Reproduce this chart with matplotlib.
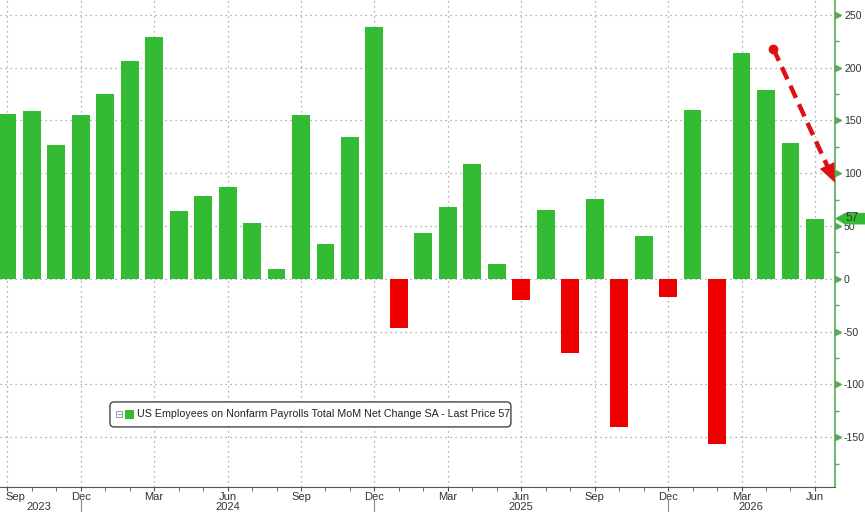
import numpy as np
import matplotlib
matplotlib.use('Agg')
import matplotlib.pyplot as plt
import matplotlib.transforms as mtransforms
from matplotlib.patches import Polygon, FancyBboxPatch, Rectangle

plt.rcParams['font.family'] = ['Liberation Sans', 'DejaVu Sans']
plt.rcParams['axes.unicode_minus'] = False

# donnees (Sep 2023 -> Jun 2026)
months = ['Sep', 'Oct', 'Nov', 'Dec', 'Jan', 'Feb', 'Mar', 'Apr', 'May', 'Jun', 'Jul', 'Aug',
          'Sep', 'Oct', 'Nov', 'Dec', 'Jan', 'Feb', 'Mar', 'Apr', 'May', 'Jun', 'Jul', 'Aug',
          'Sep', 'Oct', 'Nov', 'Dec', 'Jan', 'Feb', 'Mar', 'Apr', 'May', 'Jun']
values = [156, 159, 127, 155, 175, 206, 229, 64, 78, 87, 53, 9,
          155, 33, 134, 238, -47, 43, 68, 109, 14, -20, 65, -70,
          76, -140, 41, -17, 160, -156, 214, 179, 129, 57]
years = ['2023', '2024', '2025', '2026']
year_pos = [1.3, 9.0, 21.0, 30.4]
year_breaks = [3, 15, 27]
last_price = 57
label = 'US Employees on Nonfarm Payrolls Total MoM Net Change SA - Last Price 57'

# fleche de tendance (coordonnees donnees)
arrow_start = (31.3, 218)
arrow_end = (33.82, 91)

green = '#33bb33'
red = '#ee0000'
axis_green = '#55aa55'
txt = '#333333'
arrow_red = '#dd1111'

fig = plt.figure(figsize=(8.65, 5.12), dpi=100)
ax = fig.add_axes([0.0, 0.049, 0.9653, 0.951])

x = np.arange(len(values))
colors = [green if v >= 0 else red for v in values]
ax.bar(x, values, width=0.73, color=colors, zorder=3)

ax.set_xlim(-0.3, 33.82)
ax.set_ylim(-197, 264)

# axes / graduations
ax.yaxis.tick_right()
ax.set_yticks(np.arange(-150, 251, 50))
ax.set_yticks(np.arange(-175, 251, 25), minor=True)
ax.tick_params(axis='y', which='major', length=0, pad=6.5, labelsize=7.6, labelcolor=txt)
ax.tick_params(axis='y', which='minor', length=3, color=axis_green, width=1)
ax.set_xticks(x[::3])
ax.set_xticklabels(months[::3])
ax.set_xticks(x, minor=True)
ax.tick_params(axis='x', which='both', length=3, color='#555555', labelsize=8,
               labelcolor=txt, pad=0.5)
first = ax.get_xticklabels()[0]
first.set_transform(first.get_transform() +
                    mtransforms.ScaledTranslation(6 / 72, 0, fig.dpi_scale_trans))

for s in ['top', 'left']:
    ax.spines[s].set_visible(False)
ax.spines['right'].set_color(axis_green)
ax.spines['right'].set_linewidth(1.2)
ax.spines['bottom'].set_color('#555555')

ax.grid(True, which='major', color='#999999', linestyle=(0, (1, 3)), linewidth=0.9, zorder=0)

# triangles verts sur l'axe de droite
trans = mtransforms.blended_transform_factory(ax.transAxes, ax.transData)
ax.plot([1.004] * 9, np.arange(-150, 251, 50), marker='>', ls='none', ms=4,
        color=axis_green, transform=trans, clip_on=False)

# etiquette du dernier prix
tag = Polygon([(1.0, last_price), (1.012, last_price + 5.5), (1.04, last_price + 5.5),
               (1.04, last_price - 5.5), (1.012, last_price - 5.5)],
              closed=True, fc=green, ec='none', transform=trans, clip_on=False, zorder=5)
ax.add_patch(tag)
ax.text(1.012, last_price + 0.5, str(last_price), transform=trans, fontsize=8.5, color=txt,
        va='center', ha='left', zorder=6, clip_on=False)

# annees sous les mois
xtrans = mtransforms.blended_transform_factory(ax.transData, ax.transAxes)
for yr, p in zip(years, year_pos):
    ax.text(p, -0.042, yr, transform=xtrans, fontsize=8, color=txt, ha='center', va='center')
for b in year_breaks:
    ax.plot([b, b], [-0.024, -0.07], transform=xtrans, color='#888888', lw=0.8, clip_on=False)

# fleche rouge en pointilles : tige en pointilles + pointe pleine (en pixels)
p0 = ax.transData.transform(arrow_start)
p1 = ax.transData.transform(arrow_end)
u = (p1 - p0) / np.hypot(*(p1 - p0))
n = np.array([-u[1], u[0]])
head_len, head_w = 19, 16
base = p1 - u * head_len
head = np.array([p1, base + n * head_w / 2, base - n * head_w / 2])
head_data = ax.transData.inverted().transform(head)
ax.add_patch(Polygon(head_data, closed=True, fc=arrow_red, ec='none', zorder=6,
                     clip_on=False))
shaft_end = ax.transData.inverted().transform(base + u * 2)
ax.plot([arrow_start[0], shaft_end[0]], [arrow_start[1], shaft_end[1]],
        ls=(0, (3, 1.6)), lw=3.2, color=arrow_red, zorder=6, clip_on=False,
        solid_capstyle='butt', dash_capstyle='butt')
ax.plot(*arrow_start, marker='o', ms=6, color=arrow_red, zorder=6)

# legende (boite dessinee a la main)
frame = FancyBboxPatch((0.1317, 0.1232), 0.4802, 0.0513, transform=ax.transAxes,
                       boxstyle='round,pad=0,rounding_size=0.005', mutation_aspect=1.7,
                       fc='white', ec='#444444', lw=1.0, zorder=7)
ax.add_patch(frame)
ax.add_patch(Rectangle((0.1497, 0.1395), 0.0108, 0.0185, transform=ax.transAxes,
                       fc=green, ec='none', zorder=8))
ax.add_patch(Rectangle((0.1394, 0.1445), 0.0072, 0.0123, transform=ax.transAxes,
                       fc='white', ec='#888888', lw=0.6, zorder=8))
ax.plot([0.1410, 0.1450], [0.1507, 0.1507], transform=ax.transAxes, color='#888888',
        lw=0.6, zorder=9)
ax.text(0.164, 0.1488, label, transform=ax.transAxes, fontsize=7.7, color='#222222',
        va='center', ha='left', zorder=9)

fig.savefig('out.png', dpi=100)
